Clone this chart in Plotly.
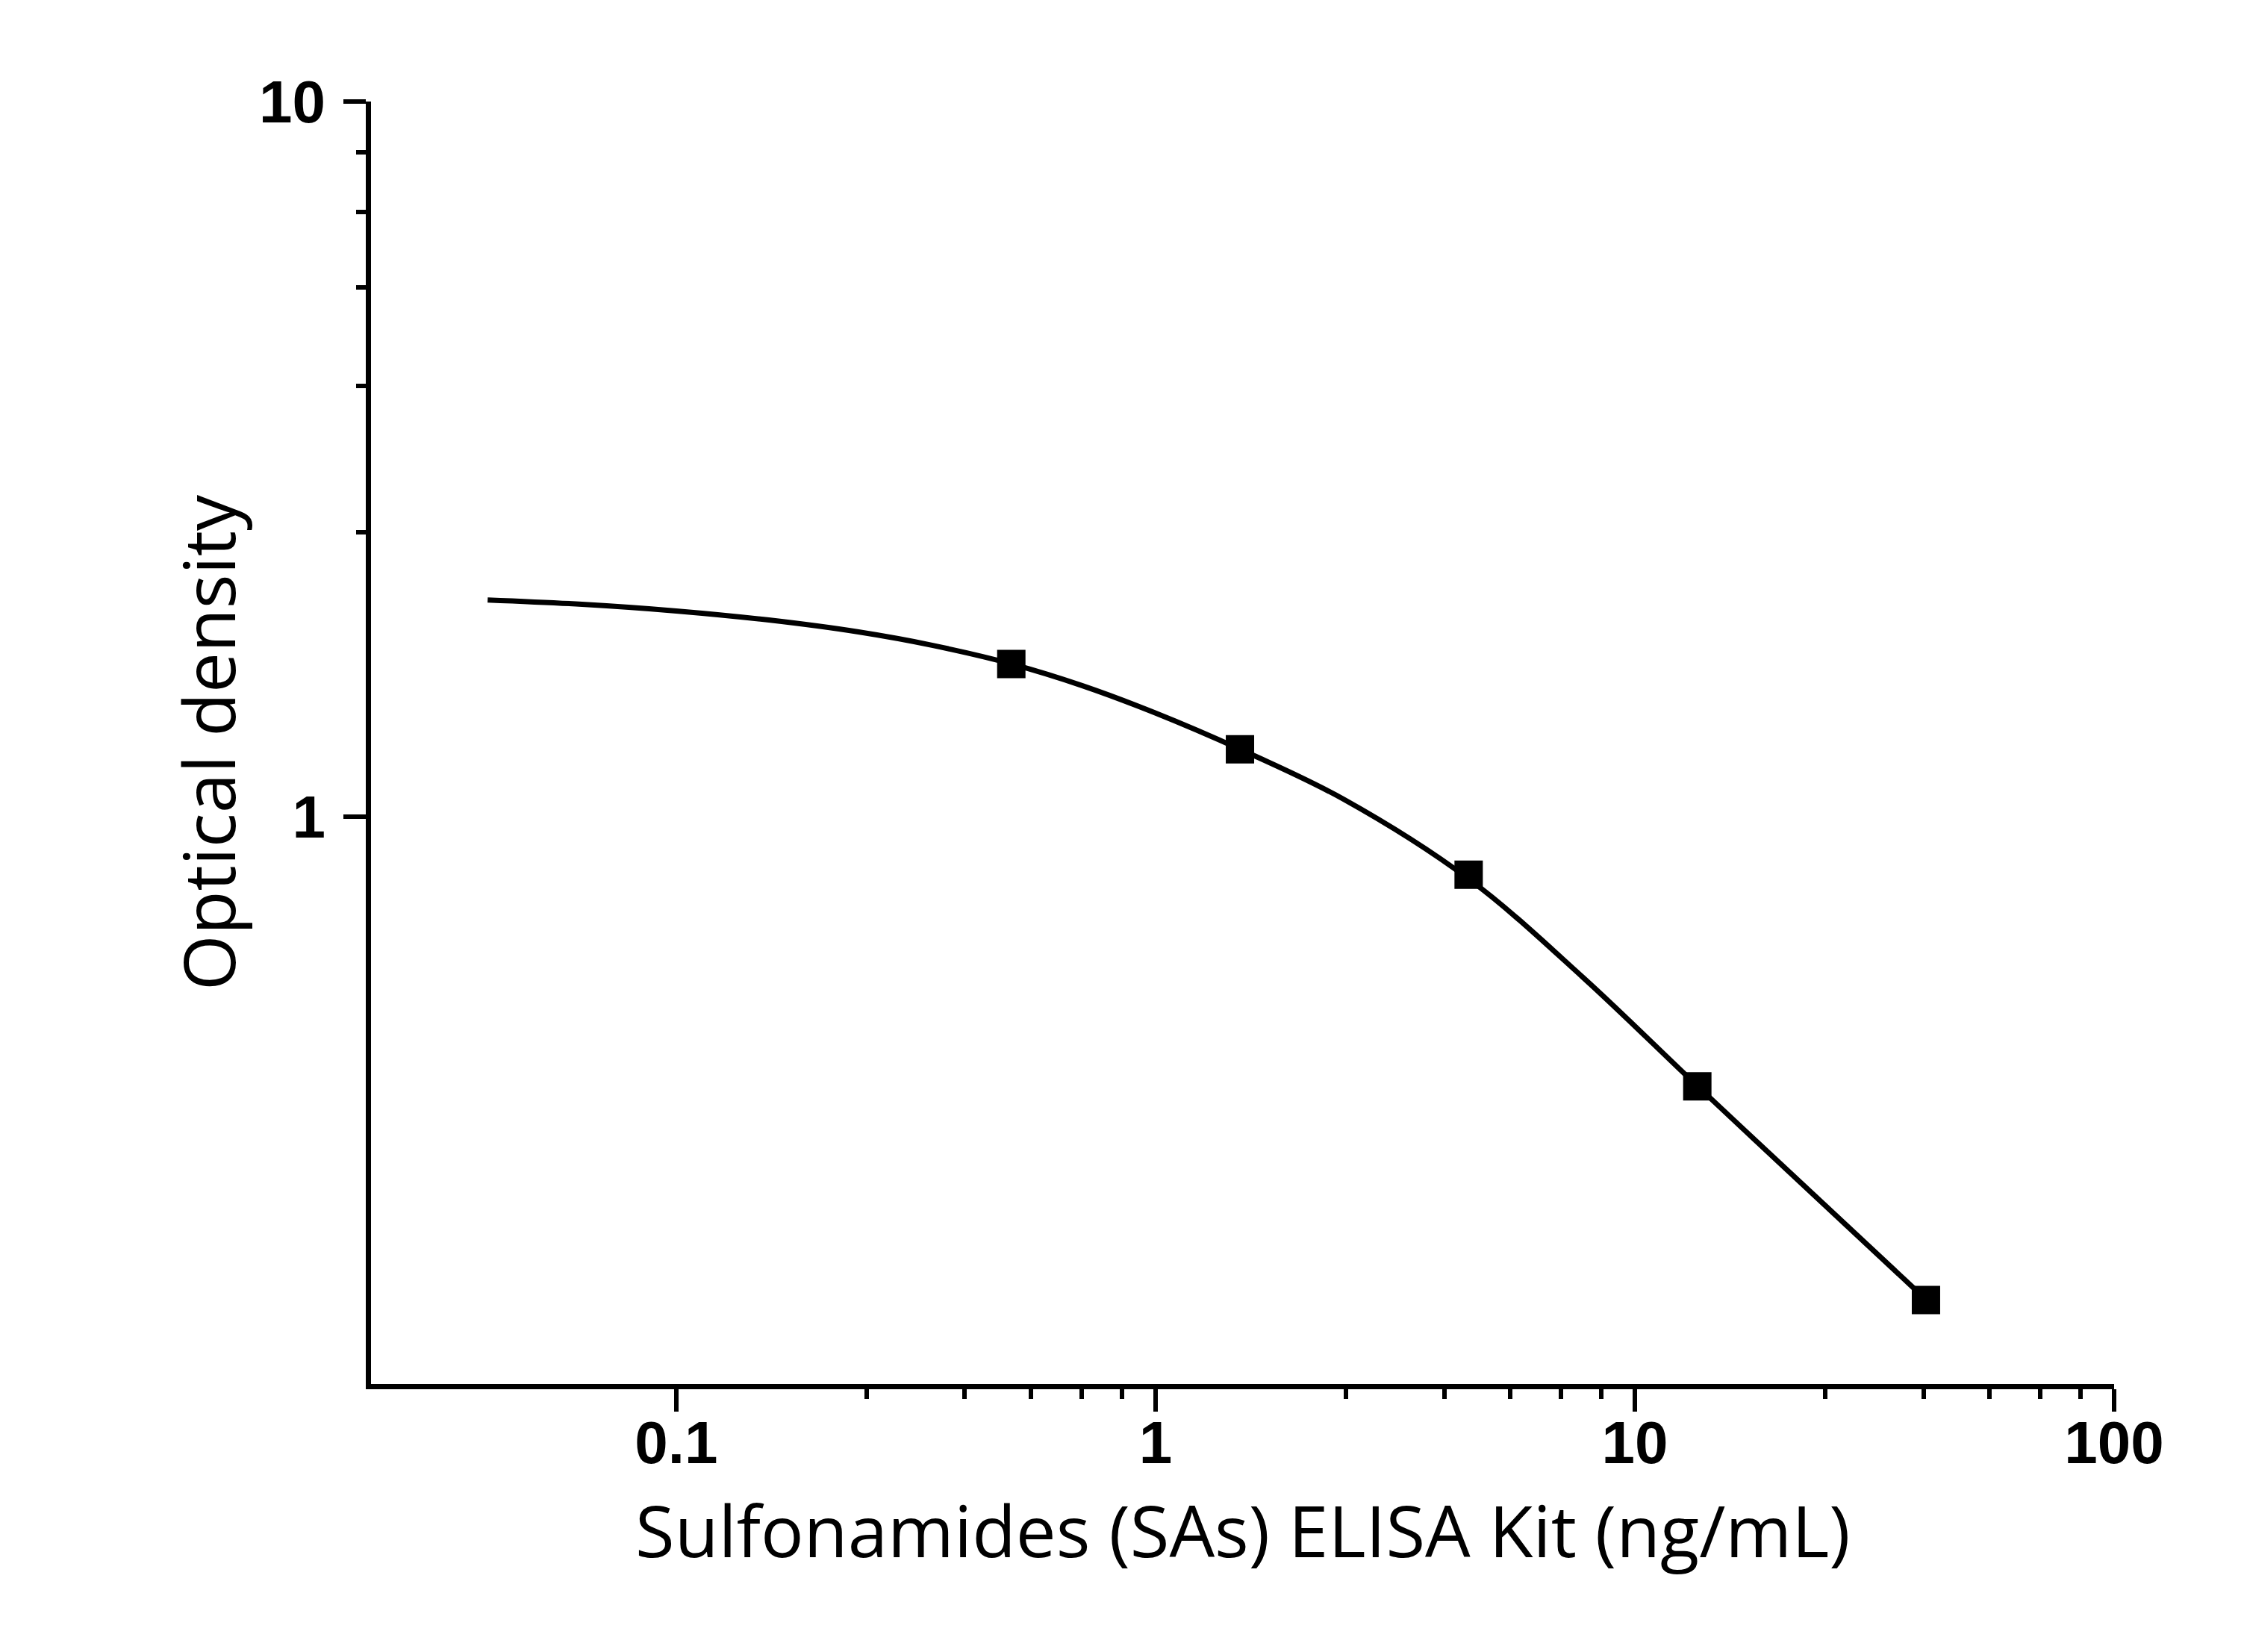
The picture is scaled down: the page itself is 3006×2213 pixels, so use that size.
import plotly.graph_objects as go

# Standard points (concentration ng/mL, optical density)
conc = [0.5, 1.5, 4.5, 13.5, 40.5]
od = [1.635, 1.243, 0.830, 0.420, 0.211]

# Fitted curve
curve_x = [0.0404, 0.0636, 0.100, 0.156, 0.240, 0.343, 0.502, 0.704, 0.996,
           1.50, 2.47, 4.51, 7.78, 13.5, 23.65, 40.5]
curve_y = [2.010, 1.982, 1.940, 1.884, 1.813, 1.736, 1.635, 1.525, 1.398,
           1.243, 1.058, 0.818, 0.597, 0.4205, 0.2959, 0.2114]

x_ticks = [0.1, 1, 10, 100]
x_ticktext = ["0.1", "1", "10", "100"]
y_ticks = [1, 10]
y_ticktext = ["1", "10"]
x_minor = [0.25, 0.4, 0.55, 0.7, 0.85, 2.5, 4, 5.5, 7, 8.5, 25, 40, 55, 70, 85]
y_minor = [2.5, 4, 5.5, 7, 8.5]

x_title = "Sulfonamides (SAs) ELISA Kit (ng/mL)"
y_title = "Optical density"

fig = go.Figure()
fig.add_trace(go.Scatter(x=curve_x, y=curve_y, mode="lines",
                         line=dict(color="black", width=7, shape="spline", smoothing=1.0),
                         showlegend=False, hoverinfo="skip"))
fig.add_trace(go.Scatter(x=conc, y=od, mode="markers",
                         marker=dict(symbol="square", size=38, color="black"),
                         showlegend=False))

tickfont = dict(family="Liberation Sans, Arial, sans-serif", size=80, color="black", weight="bold")
titlefont = dict(family="Open Sans, Noto Sans, sans-serif", size=96, color="black")

fig.update_layout(
    width=3006, height=2213,
    margin=dict(l=489, r=182, t=128, b=367, pad=0),
    paper_bgcolor="white", plot_bgcolor="white",
    xaxis=dict(type="log", range=[-1.637, 2.0], showgrid=False, zeroline=False,
               showline=True, linewidth=7, linecolor="black",
               tickmode="array", tickvals=x_ticks, ticktext=x_ticktext,
               ticks="outside", ticklen=30, tickwidth=6, tickcolor="black",
               tickfont=tickfont, ticklabelstandoff=-27,
               minor=dict(tickmode="array", tickvals=x_minor, ticks="outside",
                          ticklen=13, tickwidth=6, tickcolor="black", showgrid=False)),
    yaxis=dict(type="log", range=[-0.793, 1.0], showgrid=False, zeroline=False,
               showline=True, linewidth=7, linecolor="black",
               tickmode="array", tickvals=y_ticks, ticktext=y_ticktext,
               ticks="outside", ticklen=30, tickwidth=6, tickcolor="black",
               tickfont=tickfont, ticklabelstandoff=8,
               minor=dict(tickmode="array", tickvals=y_minor, ticks="outside",
                          ticklen=13, tickwidth=6, tickcolor="black", showgrid=False)),
    annotations=[
        dict(text=x_title, xref="paper", yref="paper", x=0.5, y=0,
             xanchor="center", yanchor="middle", yshift=-194, showarrow=False,
             font=titlefont),
        dict(text=y_title, xref="paper", yref="paper", x=0, y=0.5,
             xanchor="center", yanchor="middle", xshift=-220, textangle=-90,
             showarrow=False, font=titlefont),
    ],
)

fig.write_html("out.html")
